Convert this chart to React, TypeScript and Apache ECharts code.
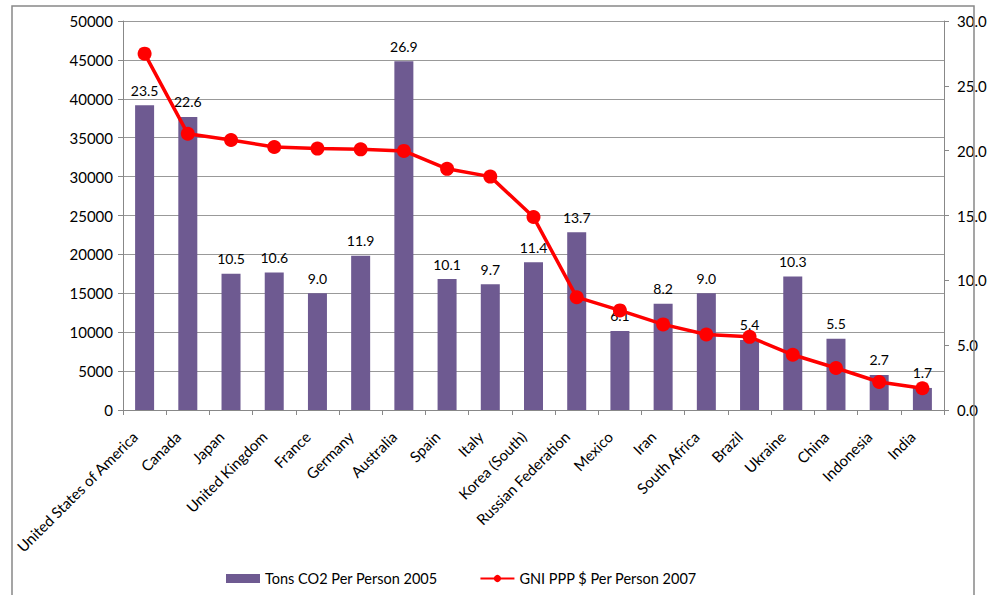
import React, { useEffect, useRef } from "react";
import * as echarts from "echarts";

const countries = [
  "United States of America",
  "Canada",
  "Japan",
  "United Kingdom",
  "France",
  "Germany",
  "Australia",
  "Spain",
  "Italy",
  "Korea (South)",
  "Russian Federation",
  "Mexico",
  "Iran",
  "South Africa",
  "Brazil",
  "Ukraine",
  "China",
  "Indonesia",
  "India",
];

const co2PerPerson2005 = [
  23.5, 22.6, 10.5, 10.6, 9.0, 11.9, 26.9, 10.1, 9.7, 11.4, 13.7, 6.1, 8.2, 9.0,
  5.4, 10.3, 5.5, 2.7, 1.7,
];

const gniPerPerson2007 = [
  45800, 35500, 34700, 33800, 33600, 33500, 33300, 31000, 30000, 24800, 14500,
  12800, 11000, 9700, 9400, 7100, 5400, 3600, 2800,
];

const barName = "Tons CO2 Per Person 2005";
const lineName = "GNI PPP $ Per Person 2007";

const FONT = "Lato";

export default function App() {
  const ref = useRef<HTMLDivElement>(null);

  useEffect(() => {
    if (!ref.current) return;
    const chart = echarts.init(ref.current, null, { renderer: "svg" });
    chart.setOption({
      animation: false,
      backgroundColor: "#ffffff",
      textStyle: { fontFamily: FONT, color: "#000" },
      grid: {
        left: 123,
        right: 50,
        top: 21,
        bottom: 185,
        containLabel: false,
        outerBoundsMode: "none",
      },
      legend: {
        left: 221,
        top: 566,
        itemWidth: 34,
        itemHeight: 9,
        itemGap: 42,
        textStyle: { fontFamily: FONT, fontSize: 14.5, color: "#000" },
        data: [
          { name: barName, icon: "rect" },
          { name: lineName },
        ],
      },
      xAxis: {
        type: "category",
        data: countries,
        axisLine: { lineStyle: { color: "#888", width: 1 } },
        axisTick: { show: true, length: 5, lineStyle: { color: "#888" } },
        axisLabel: {
          interval: 0,
          rotate: 45,
          margin: 14,
          padding: [0, 14, 0, 0],
          fontFamily: FONT,
          fontSize: 15,
          color: "#000",
        },
      },
      yAxis: [
        {
          type: "value",
          min: 0,
          max: 50000,
          interval: 5000,
          position: "left",
          axisLine: { show: true, lineStyle: { color: "#888", width: 1 } },
          axisTick: { show: true, length: 5, lineStyle: { color: "#888" } },
          axisLabel: {
            margin: 10,
            fontFamily: FONT,
            fontSize: 15,
            color: "#000",
            formatter: (v: number) => String(v),
          },
          splitLine: { show: true, lineStyle: { color: "#999", width: 1 } },
        },
        {
          type: "value",
          min: 0,
          max: 30,
          interval: 5,
          position: "right",
          axisLine: { show: true, lineStyle: { color: "#888", width: 1 } },
          axisTick: { show: true, length: 5, lineStyle: { color: "#888" } },
          axisLabel: {
            margin: 13,
            fontFamily: FONT,
            fontSize: 15,
            color: "#000",
            formatter: (v: number) => v.toFixed(1),
          },
          splitLine: { show: false },
        },
      ],
      series: [
        {
          name: barName,
          type: "bar",
          yAxisIndex: 1,
          data: co2PerPerson2005,
          barWidth: 19,
          itemStyle: { color: "#6e5a91" },
          label: {
            show: true,
            position: "top",
            distance: 8,
            fontFamily: FONT,
            fontSize: 14,
            color: "#000",
            formatter: (p: any) => Number(p.value).toFixed(1),
          },
          z: 2,
        },
        {
          name: lineName,
          type: "line",
          yAxisIndex: 0,
          data: gniPerPerson2007,
          symbol: "circle",
          symbolSize: 14,
          lineStyle: { color: "#ff0000", width: 3.5 },
          itemStyle: { color: "#ff0000" },
          z: 3,
        },
      ],
      graphic: [
        {
          type: "polyline",
          shape: {
            points: [
              [12, 595],
              [12, 6],
              [974, 6],
              [974, 595],
            ],
          },
          style: { stroke: "#888", lineWidth: 1.5, fill: "none" },
          z: 10,
        },
      ],
    });
    return () => chart.dispose();
  }, []);

  return (
    <div
      style={{
        position: "fixed",
        left: 0,
        top: 0,
        width: 994,
        height: 595,
        background: "#fff",
        overflow: "hidden",
      }}
    >
      <div ref={ref} style={{ width: 994, height: 595 }} />
    </div>
  );
}
